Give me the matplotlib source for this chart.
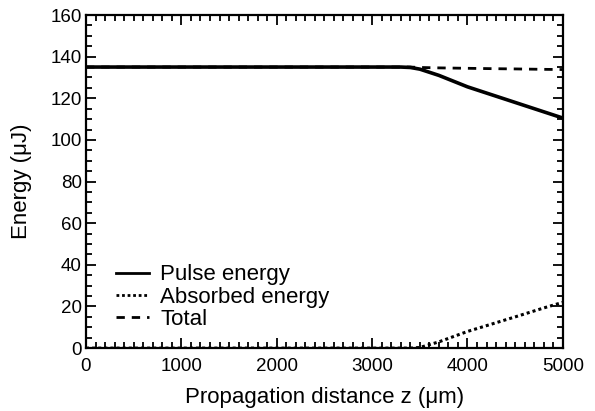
import matplotlib.pyplot as plt
from matplotlib.ticker import MultipleLocator

plt.rcParams['font.family'] = ['Liberation Sans', 'DejaVu Sans']

z = [0, 1000, 2000, 3000, 3300, 3400, 3500, 3700, 4000, 4300, 4500, 4800, 5000]
pulse = [135, 135, 135, 135, 135, 134.8, 134, 131, 125.5, 121, 118, 113.5, 110.5]
absorbed = [0, 0, 0, 0, 0, 0, 0.3, 3, 8, 12.2, 15, 19.3, 22]
total = [135, 135, 135, 135, 135, 135, 134.8, 134.6, 134.4, 134.2, 134.1, 133.9, 133.8]

fig = plt.figure(figsize=(5.95, 4.11), dpi=100)
ax = fig.add_axes([0.1445, 0.153, 0.8015, 0.8105])

ax.plot(z, pulse, color='black', lw=2.6, label='Pulse energy')
ax.plot(z, absorbed, color='black', lw=2.2, ls=(0, (1, 1)), label='Absorbed energy')
ax.plot(z, total, color='black', lw=2.0, ls=(0, (3, 2.5)), label='Total')

ax.set_xlim(0, 5000)
ax.set_ylim(0, 160)
ax.xaxis.set_major_locator(MultipleLocator(1000))
ax.xaxis.set_minor_locator(MultipleLocator(100))
ax.yaxis.set_major_locator(MultipleLocator(20))
ax.yaxis.set_minor_locator(MultipleLocator(5))
ax.tick_params(which='both', direction='in', top=True, right=True, labelsize=13.5, width=1.3)
ax.tick_params(which='major', length=7)
ax.tick_params(which='minor', length=4)
ax.tick_params(axis='x', which='major', pad=7)
ax.tick_params(axis='y', which='major', pad=3)
for s in ax.spines.values():
    s.set_linewidth(1.6)

ax.set_xlabel('Propagation distance z (μm)', fontsize=16, labelpad=9)
ax.set_ylabel('Energy (μJ)', fontsize=16, labelpad=13)

leg = ax.legend(loc='lower left', bbox_to_anchor=(0.039, 0.022), frameon=False, fontsize=16,
                handlelength=1.5, handletextpad=0.5, labelspacing=0.05, borderpad=0)
for h in leg.get_lines():
    h.set_linewidth(2.0)

plt.savefig('out.png', dpi=100)
